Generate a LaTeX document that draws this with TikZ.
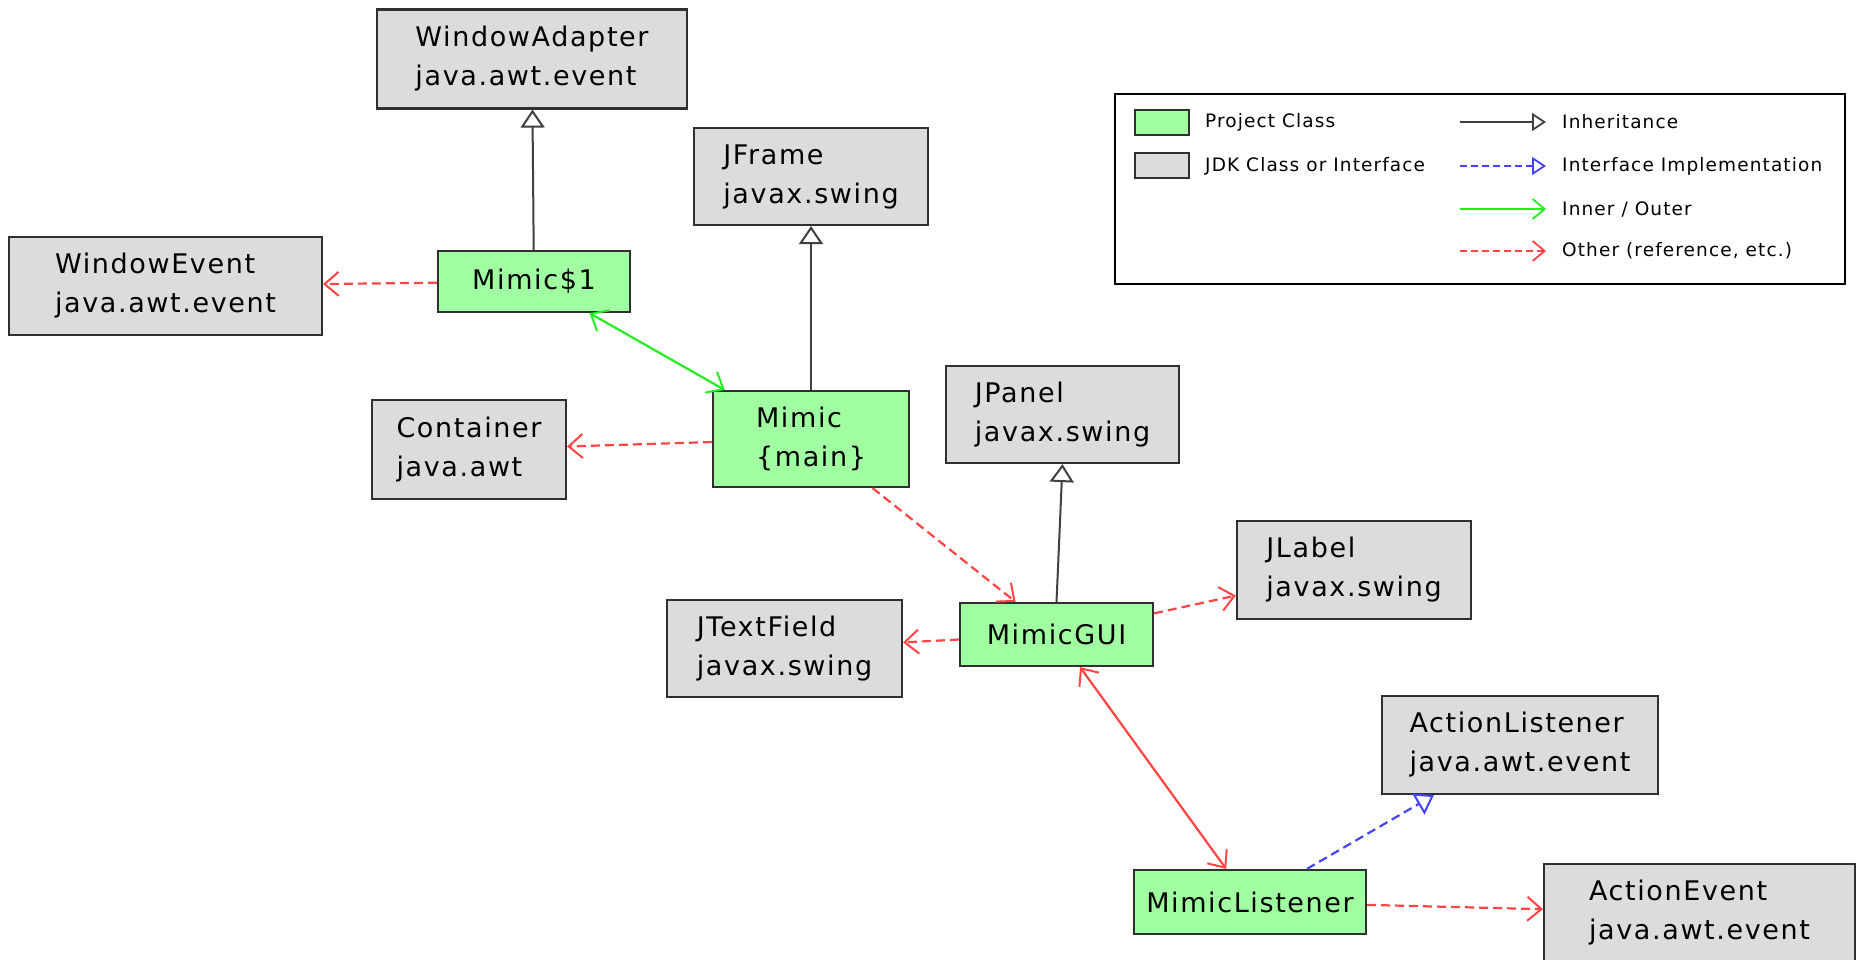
\documentclass[tikz,border=0pt]{standalone}
\usepackage{fontspec}
\setmainfont[LetterSpace=6]{DejaVu Sans}
\usetikzlibrary{arrows.meta}
\definecolor{projgreen}{HTML}{A0FFA0}
\definecolor{jdkgray}{HTML}{DCDCDC}
\definecolor{boxline}{HTML}{303030}
\definecolor{inhline}{HTML}{404040}
\definecolor{refred}{HTML}{FF4444}
\definecolor{innergreen}{HTML}{22EE22}
\definecolor{implblue}{HTML}{4444FF}
\tikzset{
  x=1pt, y=-1pt,
  cls/.style={draw=boxline, line width=2.2pt, inner sep=0pt, align=left,
    font=\fontsize{27}{39}\selectfont},
  proj/.style={cls, fill=projgreen},
  jdk/.style={cls, fill=jdkgray},
  inherit/.style={draw=inhline, line width=2pt, -{Triangle[length=18pt,width=24pt,fill=white,line width=2pt]}},
  impl/.style={draw=implblue, line width=2.2pt, dash pattern=on 9pt off 5pt, -{Triangle[length=18pt,width=24pt,fill=white,line width=2pt]}},
  inner/.style={draw=innergreen, line width=2.2pt, {Straight Barb[length=14pt,width=24pt,line width=2pt]}-{Straight Barb[length=14pt,width=24pt,line width=2pt]}},
  refer/.style={draw=refred, line width=2.2pt, dash pattern=on 9pt off 5pt, -{Straight Barb[length=14pt,width=24pt,line width=2pt]}},
  mutual/.style={draw=refred, line width=2.2pt, {Straight Barb[length=14pt,width=24pt,line width=2pt]}-{Straight Barb[length=14pt,width=24pt,line width=2pt]}},
  legtext/.style={anchor=west, inner sep=0pt, font=\fontsize{18.5}{22}\selectfont},
  swatch/.style={draw=boxline, line width=2pt, minimum width=54pt, minimum height=25pt, inner sep=0pt},
}
\begin{document}
\begin{tikzpicture}
\useasboundingbox (0,0) rectangle (1858,960);
\clip (0,0) rectangle (1858,960);
\fill[white] (0,0) rectangle (1858,960);

% class boxes
\node[jdk, minimum width=310pt, minimum height=99pt] (wa) at (532,59) {WindowAdapter\\java.awt.event};
\node[jdk, minimum width=234pt, minimum height=97pt] (jf) at (811,176.5) {JFrame\\javax.swing};
\node[jdk, minimum width=313pt, minimum height=98pt] (we) at (165.5,286) {WindowEvent\\java.awt.event};
\node[proj, minimum width=192pt, minimum height=61pt] (m1) at (534,281.5) {Mimic\$1};
\node[jdk, minimum width=194pt, minimum height=99pt] (ct) at (469,449.5) {Container\\java.awt};
\node[proj, minimum width=196pt, minimum height=96pt] (mm) at (811,439) {Mimic\\\{main\}};
\node[jdk, minimum width=233pt, minimum height=97pt] (jp) at (1062.5,414.5) {JPanel\\javax.swing};
\node[jdk, minimum width=234pt, minimum height=98pt] (jl) at (1354,570) {JLabel\\javax.swing};
\node[jdk, minimum width=235pt, minimum height=97pt] (jt) at (784.5,648.5) {JTextField\\javax.swing};
\node[proj, minimum width=193pt, minimum height=63pt] (gui) at (1056.5,634.5) {MimicGUI};
\node[jdk, minimum width=276pt, minimum height=98pt] (al) at (1520,745) {ActionListener\\java.awt.event};
\node[proj, minimum width=232pt, minimum height=64pt] (ml) at (1250,902) {MimicListener};
\node[jdk, minimum width=311pt, minimum height=98pt] (ae) at (1699.5,913) {ActionEvent\\java.awt.event};

% connectors
\draw[inherit] (m1) -- (wa);
\draw[inherit] (mm) -- (jf);
\draw[inherit] (gui.north) -- (jp.south);
\draw[refer] (m1) -- (we);
\draw[inner] (m1) -- (mm);
\draw[refer] (mm) -- (ct);
\draw[refer] (mm) -- (gui);
\draw[refer] (gui) -- (jt);
\draw[refer] (gui) -- (jl);
\draw[mutual] (gui) -- (ml);
\draw[impl] (ml) -- (al);
\draw[refer] (ml) -- (ae);

% legend
\node[draw=black, line width=2pt, minimum width=730pt, minimum height=190pt, inner sep=0pt] (legend) at (1480,189) {};
\node[swatch, fill=projgreen] (sw1) at (1162,122.5) {};
\node[swatch, fill=jdkgray] (sw2) at (1162,165.5) {};
\node[legtext] (lt1) at (1205,122) {Project Class};
\node[legtext] (lt2) at (1205,166) {JDK Class or Interface};
\coordinate (a1s) at (1460,122); \coordinate (a1e) at (1546,122);
\coordinate (a2s) at (1460,166); \coordinate (a2e) at (1546,166);
\coordinate (a3s) at (1460,209); \coordinate (a3e) at (1546,209);
\coordinate (a4s) at (1460,251); \coordinate (a4e) at (1546,251);
\draw[inherit, line width=1.8pt, -{Triangle[length=14pt,width=18pt,fill=white,line width=1.8pt]}] (a1s) -- (a1e);
\draw[impl, line width=1.8pt, dash pattern=on 7pt off 4pt, -{Triangle[length=14pt,width=18pt,fill=white,line width=1.8pt]}] (a2s) -- (a2e);
\draw[draw=innergreen, line width=1.8pt, -{Straight Barb[length=12pt,width=20pt,line width=1.8pt]}] (a3s) -- (a3e);
\draw[refer, line width=1.8pt, dash pattern=on 7pt off 4pt, -{Straight Barb[length=12pt,width=20pt,line width=1.8pt]}] (a4s) -- (a4e);
\node[legtext] (lt3) at (1562,122) {Inheritance};
\node[legtext] (lt4) at (1562,166) {Interface Implementation};
\node[legtext] (lt5) at (1562,209) {Inner / Outer};
\node[legtext] (lt6) at (1562,251) {Other (reference, etc.)};
\end{tikzpicture}
\end{document}
